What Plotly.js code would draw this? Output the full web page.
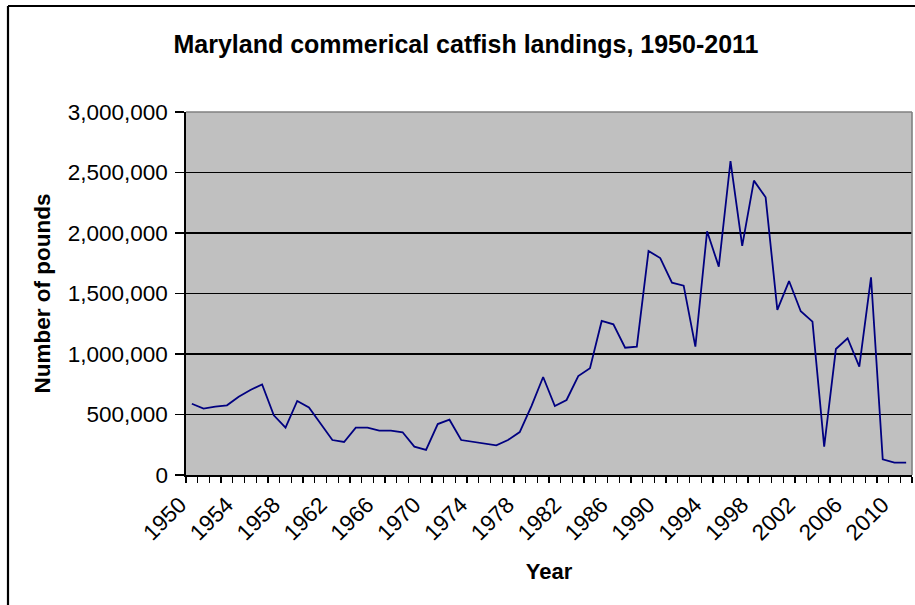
<!DOCTYPE html>
<html>
<head>
<meta charset="utf-8">
<script src="https://cdn.plot.ly/plotly-3.0.1.min.js"></script>
<style>
  html, body { margin: 0; padding: 0; background: #ffffff; }
  #chart { width: 915px; height: 605px; }
</style>
</head>
<body>
<div id="chart"></div>
<script>
// Maryland commercial catfish landings (pounds), 1950-2011
const years = [
  1950, 1951, 1952, 1953, 1954, 1955, 1956, 1957, 1958, 1959,
  1960, 1961, 1962, 1963, 1964, 1965, 1966, 1967, 1968, 1969,
  1970, 1971, 1972, 1973, 1974, 1975, 1976, 1977, 1978, 1979,
  1980, 1981, 1982, 1983, 1984, 1985, 1986, 1987, 1988, 1989,
  1990, 1991, 1992, 1993, 1994, 1995, 1996, 1997, 1998, 1999,
  2000, 2001, 2002, 2003, 2004, 2005, 2006, 2007, 2008, 2009,
  2010, 2011
];
const pounds = [
  589000, 548000, 565000, 576000, 647000, 702000, 749000, 493000, 391000, 612000,
  559000, 427000, 289000, 273000, 391000, 391000, 366000, 366000, 353000, 234000,
  207000, 421000, 457000, 289000, 275000, 262000, 245000, 289000, 355000, 570000,
  810000, 570000, 620000, 818000, 882000, 1273000, 1245000, 1052000, 1061000, 1851000,
  1793000, 1589000, 1565000, 1061000, 2014000, 1722000, 2595000, 1893000, 2433000, 2295000,
  1364000, 1603000, 1353000, 1267000, 234000, 1041000, 1130000, 895000, 1634000, 130000,
  102000, 102000
];
// labelled years along the x axis
const labelYears = [1950, 1954, 1958, 1962, 1966, 1970, 1974, 1978, 1982, 1986, 1990, 1994, 1998, 2002, 2006, 2010];
const yTicks = [0, 500000, 1000000, 1500000, 2000000, 2500000, 3000000];

const FONT = '"Liberation Sans", Arial, sans-serif';

const W = 915, H = 605;
const M = { l: 186, r: 3, t: 112, b: 130 };
const pw = W - M.l - M.r, ph = H - M.t - M.b;
// convert page pixels to paper coordinates for the frame decorations
const px = x => (x - M.l) / pw;
const py = y => (H - M.b - y) / ph;

const trace = {
  type: 'scatter',
  mode: 'lines',
  x: years,
  y: pounds,
  line: { color: '#000080', width: 1.8 },
  hoverinfo: 'x+y'
};

const layout = {
  width: W,
  height: H,
  margin: M,
  paper_bgcolor: '#ffffff',
  plot_bgcolor: '#c0c0c0',
  showlegend: false,
  font: { family: FONT, color: '#000000', size: 22 },
  title: {
    text: '<b>Maryland commerical catfish landings, 1950-2011</b>',
    font: { family: FONT, size: 25, color: '#000000' },
    xref: 'container', yref: 'container',
    x: 466 / W, y: 1 - 44 / H,
    xanchor: 'center', yanchor: 'middle'
  },
  xaxis: {
    type: 'linear',
    range: [years[0] - 0.5, years[years.length - 1] + 0.5],
    tickmode: 'array',
    tickvals: labelYears,
    ticktext: labelYears.map(String),
    ticks: '',
    tickangle: -45,
    ticklabelshift: -12,
    ticklabelstandoff: 6,
    tickfont: { family: FONT, size: 22.5, color: '#000000' },
    minor: {
      tick0: years[0] - 0.5,
      dtick: 1,
      ticks: 'outside',
      ticklen: 6,
      tickwidth: 1.3,
      tickcolor: '#000000',
      showgrid: false
    },
    showgrid: false,
    zeroline: false,
    showline: true,
    linecolor: '#000000',
    linewidth: 1.6,
    fixedrange: true,
    title: {
      text: '<b>Year</b>',
      font: { family: FONT, size: 22, color: '#000000' },
      standoff: 19
    }
  },
  yaxis: {
    range: [0, 3000000],
    tickmode: 'array',
    tickvals: yTicks,
    tickformat: ',d',
    ticks: 'outside',
    ticklen: 9,
    tickwidth: 1.3,
    tickcolor: '#000000',
    ticklabelstandoff: 3,
    tickfont: { family: FONT, size: 22.5, color: '#000000' },
    showgrid: true,
    gridcolor: '#000000',
    gridwidth: 1.6,
    zeroline: false,
    showline: true,
    linecolor: '#000000',
    linewidth: 1.6,
    fixedrange: true,
    title: {
      text: '<b>Number of pounds</b>',
      font: { family: FONT, size: 22.5, color: '#000000' },
      standoff: 11
    }
  },
  shapes: [
    // grey frame on the top and right of the plotting area
    { type: 'line', xref: 'paper', yref: 'paper', x0: 0, x1: 1, y0: 1, y1: 1,
      line: { color: '#808080', width: 1.6 } },
    { type: 'line', xref: 'paper', yref: 'paper', x0: 1, x1: 1, y0: 0, y1: 1,
      line: { color: '#808080', width: 1.6 } },
    // outer chart border (left and top edges)
    { type: 'line', xref: 'paper', yref: 'paper', x0: px(8), x1: px(8), y0: py(6), y1: py(H + 10),
      line: { color: '#000000', width: 2.2 } },
    { type: 'line', xref: 'paper', yref: 'paper', x0: px(8), x1: px(W + 10), y0: py(6), y1: py(6),
      line: { color: '#000000', width: 2.2 } }
  ]
};

Plotly.newPlot('chart', [trace], layout, { displayModeBar: false, staticPlot: true });
</script>
</body>
</html>
